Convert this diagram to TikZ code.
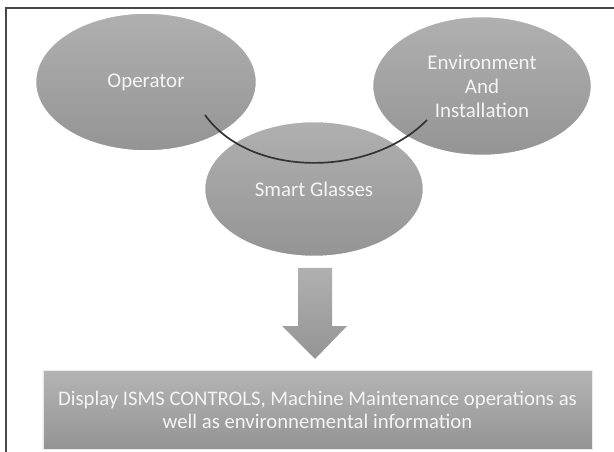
\documentclass[tikz,border=0pt]{standalone}
\usepackage{fontspec}
\setmainfont{Carlito}
\usetikzlibrary{shapes.geometric,shadows}
\definecolor{bubbletop}{HTML}{B0B0B0}
\definecolor{bubblebot}{HTML}{949494}
\definecolor{labeltext}{HTML}{F4F4F4}
\definecolor{framecol}{HTML}{474747}
\tikzset{
  bubble/.style={ellipse, top color=bubbletop, bottom color=bubblebot,
    draw=white, line width=2.5bp, inner sep=0pt,
    minimum width=222bp, minimum height=139bp,
    text=labeltext, align=center,
    font=\fontsize{21}{24}\selectfont},
  resultbox/.style={rectangle, top color=bubbletop!95!white, bottom color=bubblebot,
    draw=white!85!gray, line width=0.8bp, inner sep=0pt,
    minimum width=549bp, minimum height=79bp,
    text=labeltext, align=center,
    font=\fontsize{20.8}{23}\selectfont},
  link/.style={draw=black!80, line width=1.7bp},
  frameline/.style={draw=framecol, line width=1.5bp}
}
\begin{document}
\begin{tikzpicture}[x=1bp, y=-1bp]
  \useasboundingbox (0,0) rectangle (614,452);
  % outer frame: top and left edges only
  \draw[frameline] (6,452) -- (6,8) -- (614,8);

  % the three bubbles
  \node[bubble] (op) at (146,82) {Operator};
  \node[bubble, minimum width=220bp, minimum height=140bp] (env) at (482,86)
    {Environment\\[0pt]And\\[0pt]Installation};
  \node[bubble, minimum width=220bp, minimum height=136bp] (sg) at (314,189)
    {Smart Glasses};

  % curved link between operator and environment
  \coordinate (la) at (205,115);
  \coordinate (lb) at (427,120);
  \draw[link] (la) .. controls (250,178) and (370,178) .. (lb);

  % down arrow
  \shade[top color=bubbletop, bottom color=bubblebot]
    (298,268) -- (332,268) -- (332,326) -- (347,326) -- (315,359)
    -- (282,326) -- (298,326) -- cycle;

  % result box
  \node[resultbox] (res) at (317.5,409.5)
    {Display ISMS CONTROLS, Machine Maintenance operations as\\well as environnemental information};
\end{tikzpicture}
\end{document}
